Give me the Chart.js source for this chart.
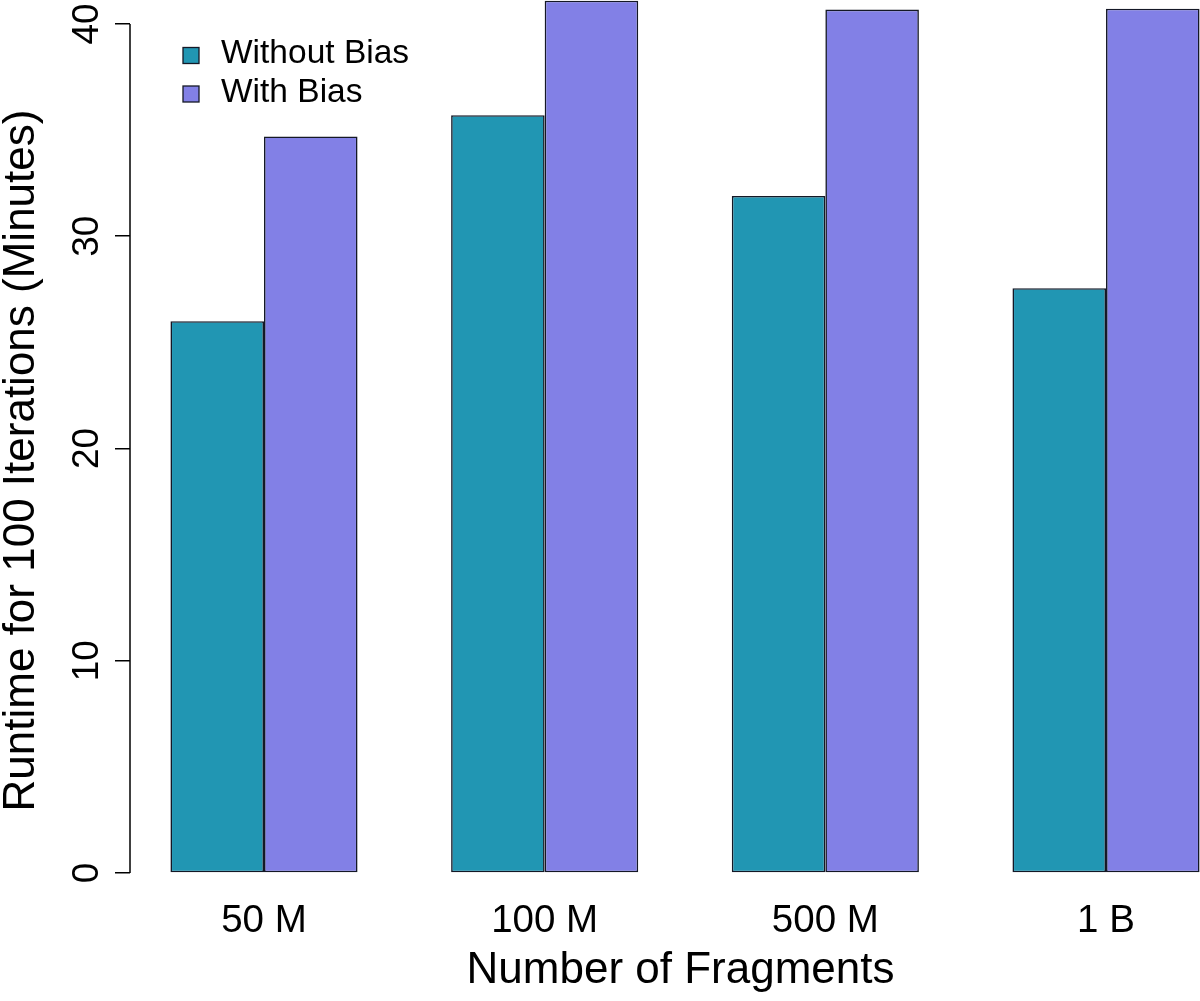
<!DOCTYPE html>
<html>
<head>
<meta charset="utf-8">
<script src="https://cdn.jsdelivr.net/npm/chart.js@4.4.1/dist/chart.umd.min.js"></script>
<style>
  html, body { margin: 0; padding: 0; background: #ffffff; overflow: hidden; }
  #wrap { width: 1200px; height: 1001px; overflow: hidden; }
  canvas { display: block; }
</style>
</head>
<body>
<div id="wrap"><canvas id="c" width="1231" height="1001"></canvas></div>
<script>
// ---- data ----
const categories = ['50 M', '100 M', '500 M', '1 B'];
const withoutBias = [26.0, 35.7, 31.9, 27.55];
const withBias = [34.7, 41.1, 40.68, 40.72];
const seriesNames = ['Without Bias', 'With Bias'];
const yTicks = [0, 10, 20, 30, 40];
const xTitle = 'Number of Fragments';
const yTitle = 'Runtime for 100 Iterations (Minutes)';

// ---- styling ----
const FONT = '"Liberation Sans", Arial, Helvetica, sans-serif';
const colors = ['#2196b3', '#8280e6'];
const edge = '#141826';

Chart.defaults.font.family = FONT;
Chart.defaults.color = '#000000';

const toPoints = arr => arr.map((v, i) => ({ x: i + 1, y: v }));

const axisLinePlugin = {
  id: 'axisLine',
  afterDraw(chart) {
    const { ctx } = chart;
    const y = chart.scales.y;
    const x0 = chart.chartArea.left;
    ctx.save();
    ctx.strokeStyle = '#000';
    ctx.lineWidth = 1.5;
    ctx.beginPath();
    ctx.moveTo(x0, y.getPixelForValue(yTicks[0]));
    ctx.lineTo(x0, y.getPixelForValue(yTicks[yTicks.length - 1]));
    ctx.stroke();
    ctx.restore();
  }
};

const legendPlugin = {
  id: 'innerLegend',
  afterDraw(chart, args, opts) {
    const { ctx } = chart;
    ctx.save();
    ctx.font = opts.fontSize + 'px ' + FONT;
    ctx.textBaseline = 'middle';
    ctx.textAlign = 'left';
    chart.data.datasets.forEach((ds, i) => {
      const cy = opts.top + i * opts.rowGap;
      ctx.fillStyle = ds.backgroundColor;
      ctx.fillRect(opts.left, cy - opts.box / 2, opts.box, opts.box);
      ctx.strokeStyle = edge;
      ctx.lineWidth = 1.3;
      ctx.strokeRect(opts.left, cy - opts.box / 2, opts.box, opts.box);
      ctx.fillStyle = '#000';
      ctx.fillText(ds.label, opts.textX, cy - 1.5);
    });
    ctx.restore();
  }
};

new Chart(document.getElementById('c'), {
  type: 'bar',
  data: {
    datasets: [
      { label: seriesNames[0], data: toPoints(withoutBias), backgroundColor: colors[0],
        borderColor: edge, borderWidth: 1.6, borderSkipped: false },
      { label: seriesNames[1], data: toPoints(withBias), backgroundColor: colors[1],
        borderColor: edge, borderWidth: 1.6, borderSkipped: false }
    ]
  },
  options: {
    responsive: false,
    animation: false,
    devicePixelRatio: 1,
    layout: { padding: 0 },
    categoryPercentage: 2 / 3,
    barPercentage: 1,
    plugins: {
      legend: { display: false },
      tooltip: { enabled: false },
      innerLegend: { left: 183, box: 16, top: 55.5, rowGap: 38.5, textX: 221, fontSize: 33.5 }
    },
    scales: {
      x: {
        type: 'linear',
        min: 0.5226,
        max: 4.4453,
        offset: false,
        grid: { display: false, drawTicks: false },
        border: { display: false },
        afterBuildTicks: s => { s.ticks = categories.map((c, i) => ({ value: i + 1 })); },
        afterFit: s => { s.height = 80; s.paddingLeft = 0; s.paddingRight = 0; },
        ticks: {
          font: { size: 38.5, lineHeight: 1.0 },
          mirror: true,
          padding: -20,
          maxRotation: 0,
          minRotation: 0,
          callback: v => categories[Math.round(v) - 1]
        },
        title: {
          display: true,
          text: xTitle,
          font: { size: 44, lineHeight: 1.0 },
          padding: { top: 0, bottom: 8 }
        }
      },
      y: {
        min: -2.262,
        max: 41.13,
        afterBuildTicks: s => { s.ticks = yTicks.map(v => ({ value: v })); },
        afterFit: s => { s.width = 130; s.paddingTop = 0; s.paddingBottom = 0; },
        grid: { display: true, drawOnChartArea: false, drawTicks: true, tickLength: 15,
                color: '#000', lineWidth: 1.5 },
        border: { display: false },
        ticks: {
          font: { size: 37 },
          minRotation: 90,
          maxRotation: 90,
          crossAlign: 'center',
          padding: 7,
          callback: v => String(v)
        },
        title: {
          display: true,
          text: yTitle,
          font: { size: 44, lineHeight: 1.0 },
          padding: { top: 0, bottom: 0 }
        }
      }
    }
  },
  plugins: [axisLinePlugin, legendPlugin]
});
</script>
</body>
</html>
